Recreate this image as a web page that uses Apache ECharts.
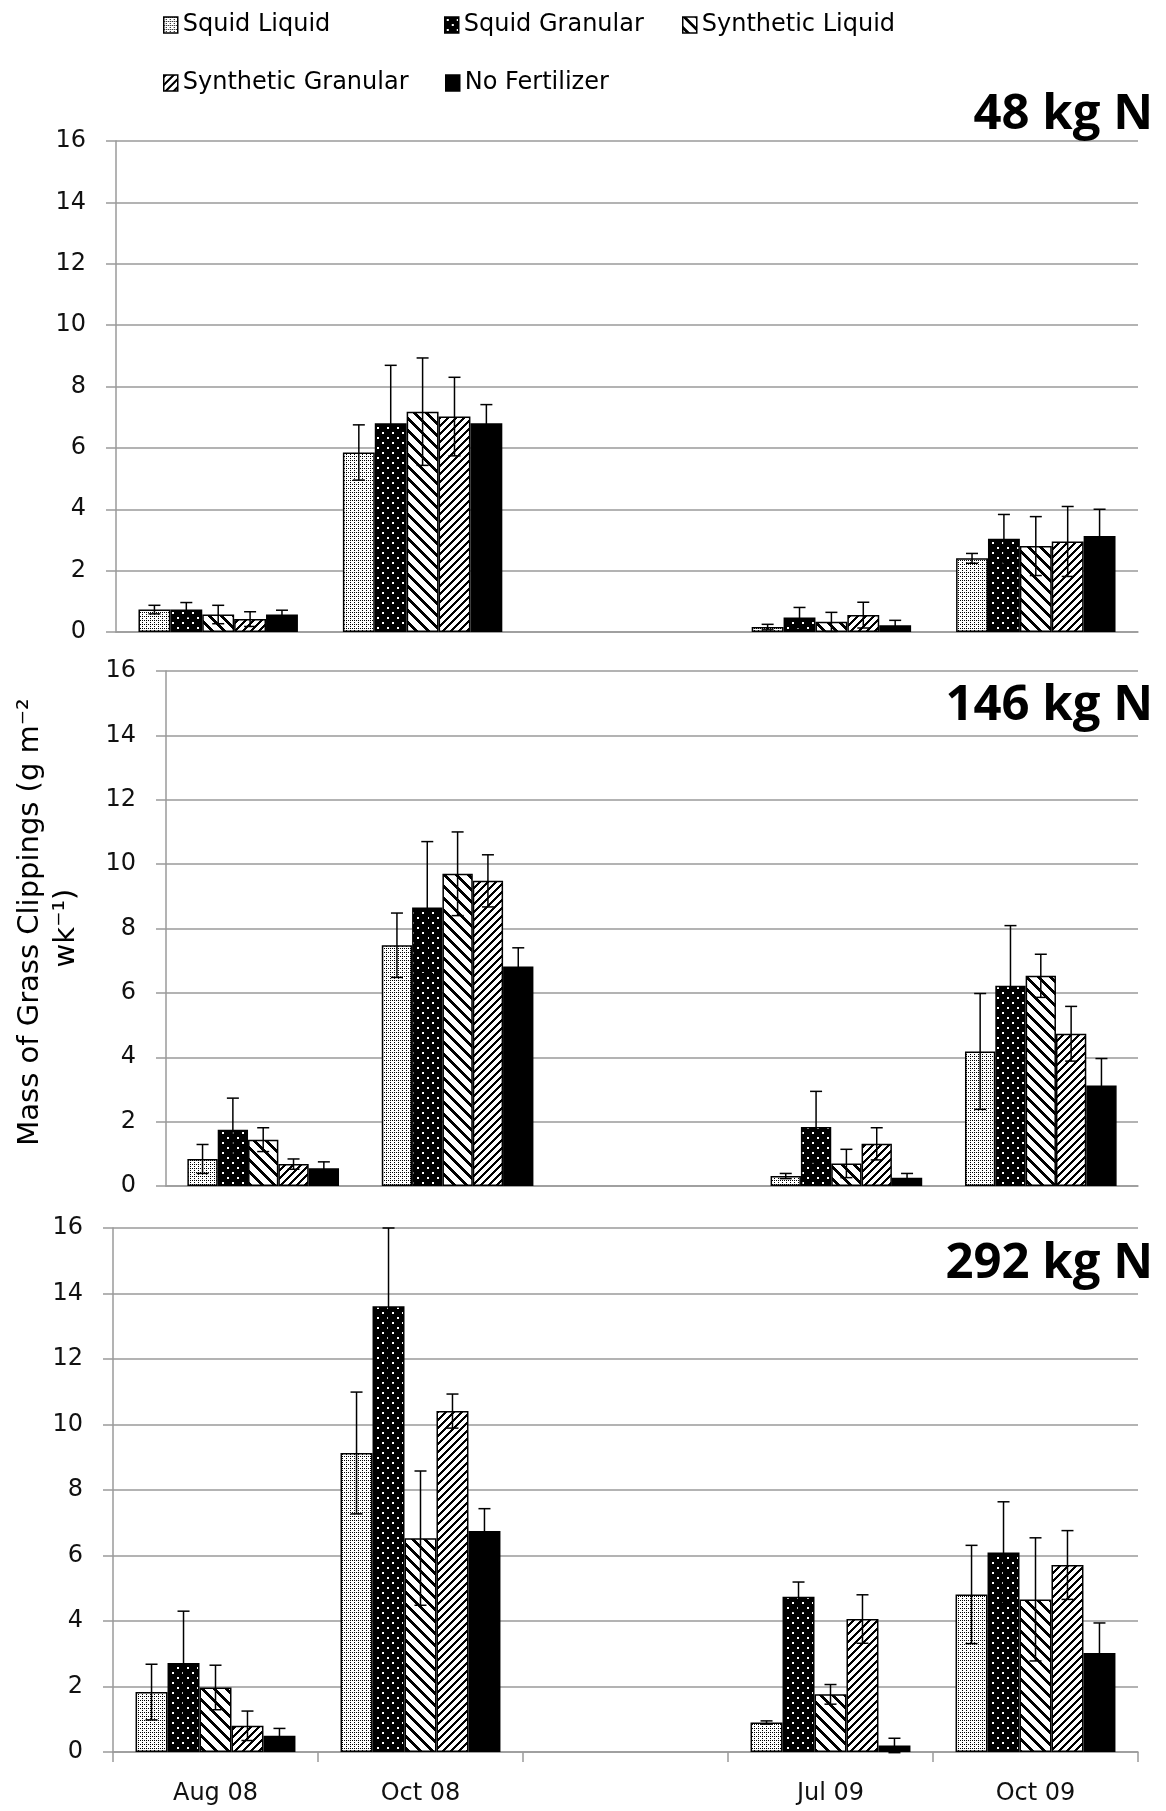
<!DOCTYPE html>
<html>
<head>
<meta charset="utf-8">
<script src="https://cdn.jsdelivr.net/npm/echarts@6.0.0/dist/echarts.min.js"></script>
<style>
  html, body { margin: 0; padding: 0; background: #fff; }
  #main { width: 1166px; height: 1811px; }
</style>
</head>
<body>
<div id="main"></div>
<script>
const categories = ['Aug 08', 'Oct 08', '', 'Jul 09', 'Oct 09'];
const treatments = ['Squid Liquid', 'Squid Granular', 'Synthetic Liquid', 'Synthetic Granular', 'No Fertilizer'];
const panelTitles = ['48 kg N', '146 kg N', '292 kg N'];

// 48 kg N (mean, then error)
const squidLiquid48 = [0.73, 5.85, null, 0.16, 2.40];
const squidGranular48 = [0.73, 6.80, null, 0.47, 3.04];
const synthLiquid48 = [0.57, 7.18, null, 0.33, 2.80];
const synthGranular48 = [0.42, 7.02, null, 0.55, 2.95];
const noFert48 = [0.57, 6.80, null, 0.22, 3.13];
const squidLiquidErr48 = [0.14, 0.90, null, 0.09, 0.16];
const squidGranularErr48 = [0.23, 1.89, null, 0.33, 0.79];
const synthLiquidErr48 = [0.30, 1.75, null, 0.31, 0.96];
const synthGranularErr48 = [0.24, 1.28, null, 0.42, 1.14];
const noFertErr48 = [0.14, 0.61, null, 0.16, 0.87];

// 146 kg N
const squidLiquid146 = [0.84, 7.48, null, 0.31, 4.18];
const squidGranular146 = [1.75, 8.65, null, 1.83, 6.22];
const synthLiquid146 = [1.44, 9.70, null, 0.70, 6.53];
const synthGranular146 = [0.68, 9.48, null, 1.31, 4.73];
const noFert146 = [0.55, 6.82, null, 0.26, 3.12];
const squidLiquidErr146 = [0.45, 1.00, null, 0.08, 1.80];
const squidGranularErr146 = [0.98, 2.05, null, 1.11, 1.87];
const synthLiquidErr146 = [0.37, 1.30, null, 0.44, 0.67];
const synthGranularErr146 = [0.16, 0.81, null, 0.50, 0.85];
const noFertErr146 = [0.20, 0.58, null, 0.13, 0.84];

// 292 kg N
const squidLiquid292 = [1.83, 9.13, null, 0.90, 4.81];
const squidGranular292 = [2.72, 13.61, null, 4.74, 6.09];
const synthLiquid292 = [1.97, 6.53, null, 1.76, 4.66];
const synthGranular292 = [0.80, 10.41, null, 4.06, 5.71];
const noFert292 = [0.50, 6.75, null, 0.20, 3.02];
const squidLiquidErr292 = [0.85, 1.86, null, 0.05, 1.50];
const squidGranularErr292 = [1.58, 2.39, null, 0.45, 1.55];
const synthLiquidErr292 = [0.68, 2.05, null, 0.30, 1.88];
const synthGranularErr292 = [0.45, 0.52, null, 0.74, 1.05];
const noFertErr292 = [0.22, 0.68, null, 0.22, 0.92];

const panelValues = [
  [squidLiquid48, squidGranular48, synthLiquid48, synthGranular48, noFert48],
  [squidLiquid146, squidGranular146, synthLiquid146, synthGranular146, noFert146],
  [squidLiquid292, squidGranular292, synthLiquid292, synthGranular292, noFert292]
];
const panelErrors = [
  [squidLiquidErr48, squidGranularErr48, synthLiquidErr48, synthGranularErr48, noFertErr48],
  [squidLiquidErr146, squidGranularErr146, synthLiquidErr146, synthGranularErr146, noFertErr146],
  [squidLiquidErr292, squidGranularErr292, synthLiquidErr292, synthGranularErr292, noFertErr292]
];

// black & white fill patterns, drawn pixel by pixel
function makePattern(size, isBlack) {
  const c = document.createElement('canvas');
  c.width = size; c.height = size;
  const ctx = c.getContext('2d');
  const img = ctx.createImageData(size, size);
  for (let y = 0; y < size; y++) {
    for (let x = 0; x < size; x++) {
      const k = isBlack(x, y) ? 0 : 255;
      const i = (y * size + x) * 4;
      img.data[i] = img.data[i + 1] = img.data[i + 2] = k;
      img.data[i + 3] = 255;
    }
  }
  ctx.putImageData(img, 0, 0);
  return { image: c, repeat: 'repeat' };
}

const fills = [
  makePattern(4, (x, y) => (x === 0 && y === 0) || (x === 2 && y === 2) || (x === 2 && y === 0)),
  makePattern(10, (x, y) => !((x >= 2 && x < 4 && y >= 2 && y < 4) || (x >= 7 && x < 9 && y >= 7 && y < 9))),
  makePattern(12, (x, y) => (((x - y) % 12) + 12) % 12 < 4),
  makePattern(8, (x, y) => (x + y) % 8 < 3),
  '#000'
];

const GAP = 0.22;
const grids = [
  { left: 116, right: 28, top: 141, height: 491 },
  { left: 166, right: 28, top: 671, height: 515 },
  { left: 113, right: 28, top: 1228, height: 524 }
];
const titleTops = [86, 677, 1235];

const tickFont = { fontFamily: 'DejaVu Sans', fontSize: 24, color: '#111' };
const gridGray = '#9a9a9a';

const xAxes = grids.map((g, i) => ({
  type: 'category',
  gridIndex: i,
  data: categories,
  axisLine: { show: true, lineStyle: { color: gridGray, width: 1.5 } },
  axisTick: { show: i === 2, length: 10, lineStyle: { color: gridGray, width: 1.5 } },
  axisLabel: Object.assign({ show: i === 2, margin: 30 }, tickFont)
}));

const yAxes = grids.map((g, i) => ({
  type: 'value',
  gridIndex: i,
  min: 0,
  max: 16,
  interval: 2,
  axisLine: { show: true, lineStyle: { color: gridGray, width: 1.5 } },
  axisTick: { show: true, length: 10, lineStyle: { color: gridGray, width: 1.5 } },
  axisLabel: Object.assign({ margin: 30 }, tickFont),
  splitLine: { show: true, lineStyle: { color: gridGray, width: 1.5 } }
}));

const series = [];
panelValues.forEach((vals, p) => {
  vals.forEach((arr, s) => {
    series.push({
      type: 'bar',
      name: treatments[s],
      xAxisIndex: p,
      yAxisIndex: p,
      data: arr,
      barGap: '0%',
      barCategoryGap: (GAP * 100) + '%',
      itemStyle: { color: fills[s], borderColor: '#000', borderWidth: 1.5 },
      emphasis: { disabled: true }
    });
  });
  const errData = [];
  vals.forEach((arr, s) => {
    arr.forEach((v, c) => {
      if (v == null) return;
      const e = panelErrors[p][s][c];
      errData.push([c, s, v - e, v + e]);
    });
  });
  series.push({
    type: 'custom',
    name: 'err' + p,
    xAxisIndex: p,
    yAxisIndex: p,
    z: 5,
    clip: false,
    encode: { x: 0, y: [2, 3] },
    data: errData,
    renderItem: function (params, api) {
      const cat = api.value(0), s = api.value(1);
      const band = api.size([1, 0])[0];
      const w = band * (1 - GAP) / 5;
      const top = api.coord([cat, api.value(3)]);
      const bot = api.coord([cat, api.value(2)]);
      const x = top[0] + (s - 2) * w;
      const cap = 6;
      const st = { stroke: '#000', lineWidth: 1.5 };
      return {
        type: 'group',
        children: [
          { type: 'line', shape: { x1: x, y1: top[1], x2: x, y2: bot[1] }, style: st },
          { type: 'line', shape: { x1: x - cap, y1: top[1], x2: x + cap, y2: top[1] }, style: st },
          { type: 'line', shape: { x1: x - cap, y1: bot[1], x2: x + cap, y2: bot[1] }, style: st }
        ]
      };
    }
  });
});

const legendSpots = [
  { left: 158, top: 8 }, { left: 439, top: 8 }, { left: 677, top: 8 },
  { left: 158, top: 66 }, { left: 440, top: 66 }
];
const legends = treatments.map((t, i) => ({
  data: [t],
  left: legendSpots[i].left,
  top: legendSpots[i].top,
  icon: 'rect',
  itemWidth: 14,
  itemHeight: 16,
  itemStyle: { borderColor: '#000', borderWidth: 1.5 },
  textStyle: { fontFamily: 'DejaVu Sans', fontSize: 24, color: '#000' }
}));

const chart = echarts.init(document.getElementById('main'));
chart.setOption({
  animation: false,
  backgroundColor: '#fff',
  title: panelTitles.map((t, i) => ({
    text: t,
    right: 8,
    top: titleTops[i],
    textStyle: { fontFamily: 'Open Sans', fontWeight: 'bold', fontSize: 49, color: '#000' }
  })),
  legend: legends,
  grid: grids,
  xAxis: xAxes,
  yAxis: yAxes,
  series: series,
  graphic: [
    {
      type: 'text', x: 30, y: 922, rotation: Math.PI / 2,
      style: { text: 'Mass of Grass Clippings (g m\u207B\u00B2', fontFamily: 'DejaVu Sans', fontSize: 29, fill: '#000', align: 'center', verticalAlign: 'middle' }
    },
    {
      type: 'text', x: 66, y: 928, rotation: Math.PI / 2,
      style: { text: 'wk\u207B\u00B9)', fontFamily: 'DejaVu Sans', fontSize: 29, fill: '#000', align: 'center', verticalAlign: 'middle' }
    }
  ]
});
</script>
</body>
</html>
